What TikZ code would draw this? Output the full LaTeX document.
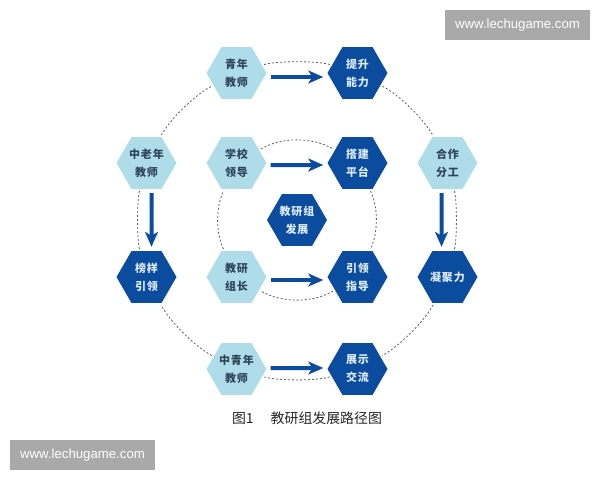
\documentclass[tikz,border=0pt]{standalone}
\usepackage{xcolor}
\usepackage{fontspec}
\usepackage{tikz}
\usetikzlibrary{shapes.geometric, arrows.meta, calc}
\newfontfamily\cjkcell{Noto Sans CJK SC}[LetterSpace=9]
\newfontfamily\cjkcap{Noto Sans CJK SC}
\newfontfamily\markfont{Liberation Sans}
\definecolor{darkcell}{HTML}{0B4C9E}
\definecolor{lightcell}{HTML}{AEDDE9}
\definecolor{celltext}{HTML}{2F4558}
\definecolor{whitetext}{HTML}{DCEBF6}
\definecolor{markgray}{HTML}{A9A9A9}
\definecolor{ringgray}{HTML}{606060}
\tikzstyle{hexcell} = [regular polygon, regular polygon sides=6, minimum size=60pt, inner sep=0pt, align=center, font=\cjkcell\bfseries\fontsize{11}{18}\selectfont]
\tikzstyle{start} = [hexcell, fill=lightcell, text=celltext]
\tikzstyle{goal} = [hexcell, fill=darkcell, text=whitetext]
\tikzstyle{arrow} = [line width=4pt, darkcell, -{Stealth[length=15pt, width=13pt, inset=4pt]}, shorten <=4pt, shorten >=4pt]
\tikzstyle{ring} = [line width=0.8pt, ringgray, dash pattern=on 2pt off 2pt, shorten <=2pt, shorten >=2pt]
\tikzstyle{markbox} = [rectangle, fill=markgray, text=white, minimum width=145pt, minimum height=30pt, inner sep=0pt, font=\markfont\fontsize{13.2}{15}\selectfont]

\begin{document}
\begin{tikzpicture}[x=1pt, y=1pt, node distance=90pt]
\useasboundingbox (0,0) rectangle (600,-480);

\node (qing) [start] at (236.5,-73) {青年\\教师};
\node (tisheng) [goal, right of=qing, xshift=31pt] {提升\\能力};
\node (xuexiao) [start, below of=qing] {学校\\领导};
\node (dajian) [goal, right of=xuexiao, xshift=31pt] {搭建\\平台};
\node (hezuo) [start, right of=dajian] {合作\\分工};
\node (zhonglao) [start, left of=xuexiao] {中老年\\教师};
\node (zuzhang) [start, below of=xuexiao, yshift=-24pt] {教研\\组长};
\node (yinling) [goal, right of=zuzhang, xshift=31pt] {引领\\指导};
\node (ningju) [goal, right of=yinling] {凝聚力};
\node (bangyang) [goal, left of=zuzhang] {榜样\\引领};
\node (zhongqing) [start, below of=zuzhang, yshift=-2pt] {中青年\\教师};
\node (zhanshi) [goal, right of=zhongqing, xshift=31pt] {展示\\交流};
\node (fazhan) [goal] at ($(xuexiao)!0.5!(yinling)$) {教研组\\发展};

\node (caption) [text=black!85, font=\cjkcap\fontsize{13.9}{16}\selectfont] at (307,-418) {图1\hspace{17pt}教研组发展路径图};
\node (marktop) [markbox] at (517.5,-25) {www.lechugame.com};
\node (markbottom) [markbox] at (82.5,-455) {www.lechugame.com};

% outer ring
\draw [ring] (qing) to[bend left=17, looseness=0.55] (tisheng);
\draw [ring] (tisheng) to[bend left=17, looseness=0.71] (hezuo);
\draw [ring] (hezuo) to[bend left=14, looseness=0.52] (ningju);
\draw [ring] (ningju) to[bend left=17, looseness=0.71] (zhanshi);
\draw [ring] (zhanshi) to[bend left=16, looseness=0.6] (zhongqing);
\draw [ring] (zhongqing) to[bend left=17, looseness=0.71] (bangyang);
\draw [ring] (bangyang) to[bend left=14, looseness=0.52] (zhonglao);
\draw [ring] (zhonglao) to[bend left=17, looseness=0.71] (qing);
% inner ring
\draw [ring] (xuexiao) to[bend left=30, looseness=0.885] (dajian);
\draw [ring] (dajian) to[bend left=25, looseness=0.85] (yinling);
\draw [ring] (yinling) to[bend left=30, looseness=0.885] (zuzhang);
\draw [ring] (zuzhang) to[bend left=25, looseness=0.85] (xuexiao);

\draw [arrow] ([yshift=-4pt]qing.east) -- ([yshift=-4pt]tisheng.west);
\draw [arrow] ([yshift=-2pt]xuexiao.east) -- ([yshift=-2pt]dajian.west);
\draw [arrow] ([yshift=-3pt]zuzhang.east) -- ([yshift=-3pt]yinling.west);
\draw [arrow] ([yshift=1pt]zhongqing.east) -- ([yshift=1pt]zhanshi.west);
\draw [arrow] ([xshift=5pt]zhonglao.south) -- ([xshift=5pt]bangyang.north);
\draw [arrow] ([xshift=-6pt]hezuo.south) -- ([xshift=-6pt]ningju.north);
\end{tikzpicture}
\end{document}
